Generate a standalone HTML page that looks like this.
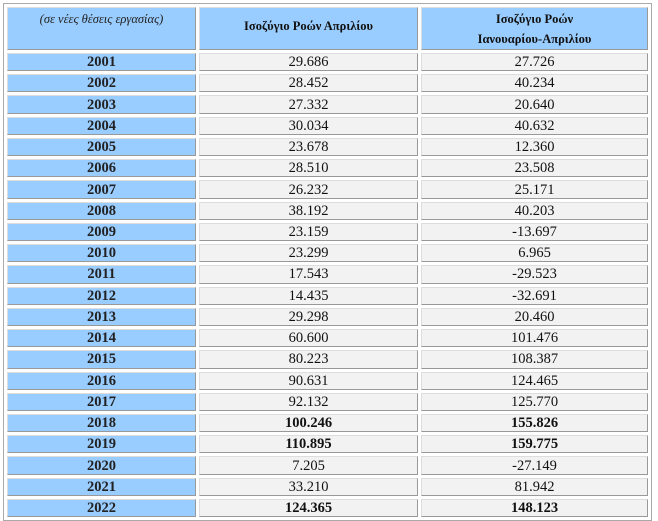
<!DOCTYPE html>
<html><head><meta charset="utf-8"><style>
body{margin:0;background:#fff;width:658px;height:521px;overflow:hidden;font-family:"Liberation Serif","DejaVu Serif",serif;}
table{position:absolute;left:3px;top:3px;width:649px;border:1px solid #aaa;border-spacing:3px;border-collapse:separate;}
td{box-sizing:border-box;border:1px solid #999;border-top-color:#ddd;border-left-color:#ddd;padding:0;text-align:center;font-size:14.5px;color:#111;height:18.24px;line-height:16px;}
td.y{background:#99ccff;font-weight:bold;color:#222;width:189px;}
td.v{background:#f2f2f2;}
tr.h td{height:41px;vertical-align:top;font-size:12.5px;line-height:20px;padding-top:1px;}
tr.h td.y{font-style:italic;font-weight:normal;font-family:"Liberation Serif",serif;}
tr.h td.c{background:#99ccff;font-weight:bold;}
tr.b td.v{font-weight:bold;}
</style></head><body>
<table>
<tr class="h"><td class="y">(σε νέες θέσεις εργασίας)</td><td class="c" style="width:219px;padding-top:8px">Ισοζύγιο Ροών Απριλίου</td><td class="c">Ισοζύγιο Ροών<br>Ιανουαρίου-Απριλίου</td></tr>
<tr><td class="y">2001</td><td class="v">29.686</td><td class="v">27.726</td></tr>
<tr><td class="y">2002</td><td class="v">28.452</td><td class="v">40.234</td></tr>
<tr><td class="y">2003</td><td class="v">27.332</td><td class="v">20.640</td></tr>
<tr><td class="y">2004</td><td class="v">30.034</td><td class="v">40.632</td></tr>
<tr><td class="y">2005</td><td class="v">23.678</td><td class="v">12.360</td></tr>
<tr><td class="y">2006</td><td class="v">28.510</td><td class="v">23.508</td></tr>
<tr><td class="y">2007</td><td class="v">26.232</td><td class="v">25.171</td></tr>
<tr><td class="y">2008</td><td class="v">38.192</td><td class="v">40.203</td></tr>
<tr><td class="y">2009</td><td class="v">23.159</td><td class="v">-13.697</td></tr>
<tr><td class="y">2010</td><td class="v">23.299</td><td class="v">6.965</td></tr>
<tr><td class="y">2011</td><td class="v">17.543</td><td class="v">-29.523</td></tr>
<tr><td class="y">2012</td><td class="v">14.435</td><td class="v">-32.691</td></tr>
<tr><td class="y">2013</td><td class="v">29.298</td><td class="v">20.460</td></tr>
<tr><td class="y">2014</td><td class="v">60.600</td><td class="v">101.476</td></tr>
<tr><td class="y">2015</td><td class="v">80.223</td><td class="v">108.387</td></tr>
<tr><td class="y">2016</td><td class="v">90.631</td><td class="v">124.465</td></tr>
<tr><td class="y">2017</td><td class="v">92.132</td><td class="v">125.770</td></tr>
<tr class="b"><td class="y">2018</td><td class="v">100.246</td><td class="v">155.826</td></tr>
<tr class="b"><td class="y">2019</td><td class="v">110.895</td><td class="v">159.775</td></tr>
<tr><td class="y">2020</td><td class="v">7.205</td><td class="v">-27.149</td></tr>
<tr><td class="y">2021</td><td class="v">33.210</td><td class="v">81.942</td></tr>
<tr class="b"><td class="y">2022</td><td class="v">124.365</td><td class="v">148.123</td></tr>
</table>
</body></html>
